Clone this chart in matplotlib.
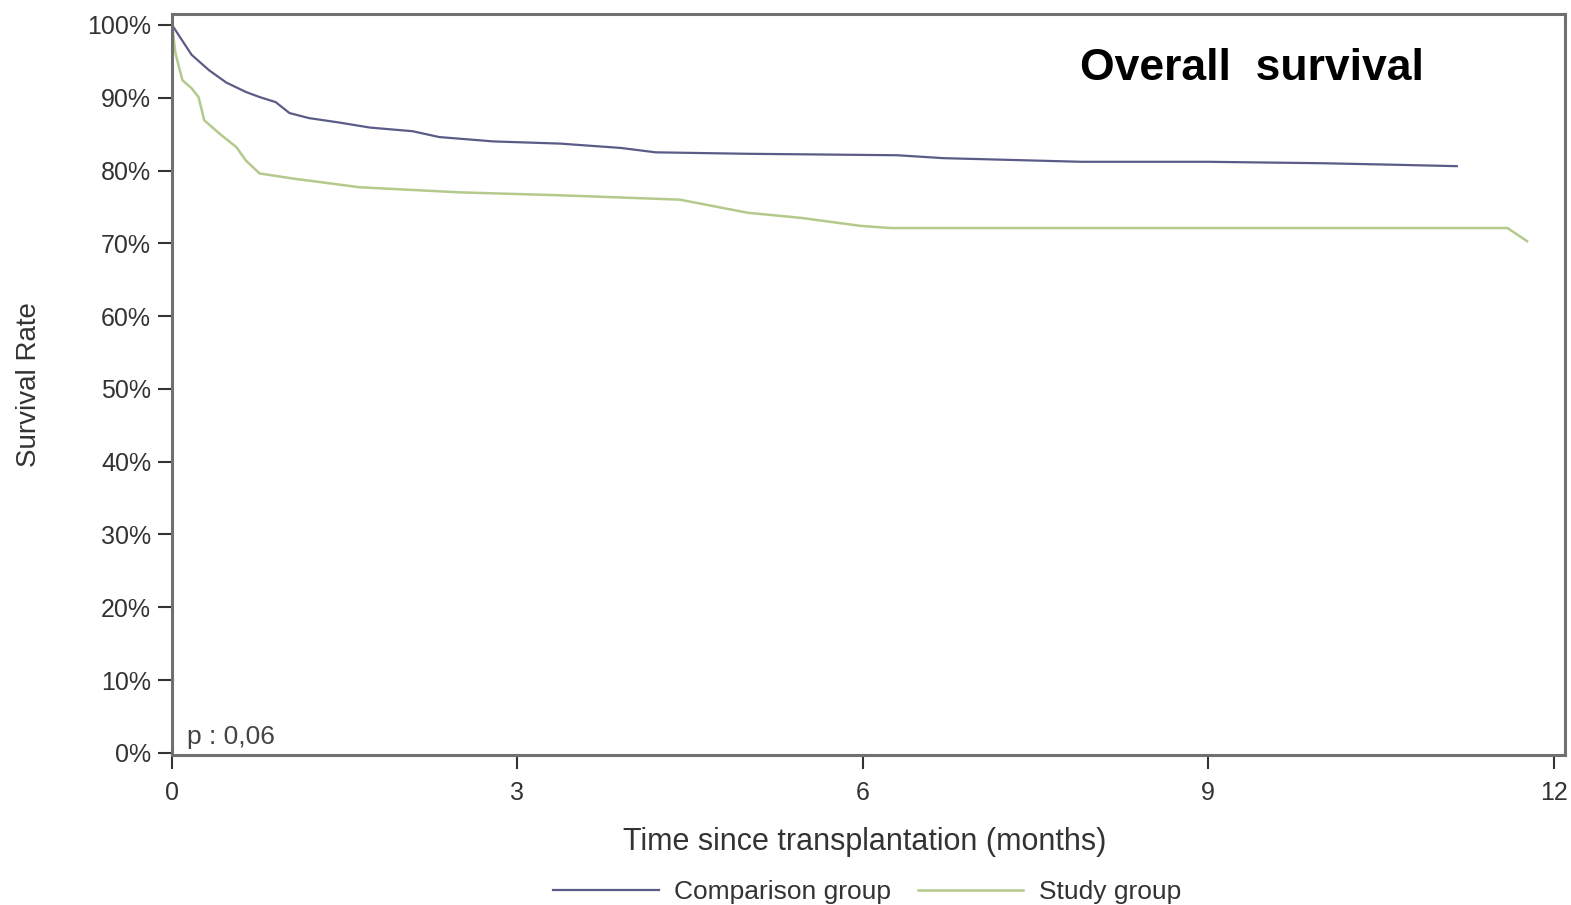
import matplotlib.pyplot as plt
from matplotlib.ticker import PercentFormatter

# Kaplan-Meier style curves (months, survival %)
comp_t = [0, 0.17, 0.32, 0.47, 0.64, 0.76, 0.9, 1.02, 1.19, 1.45, 1.72, 2.09, 2.32,
          2.79, 3.37, 3.9, 4.2, 5.0, 6.3, 6.7, 7.9, 9.0, 10.0, 10.6, 11.16]
comp_s = [100, 95.9, 93.8, 92.1, 90.8, 90.1, 89.4, 87.9, 87.2, 86.6, 85.9, 85.4, 84.6,
          84.0, 83.7, 83.1, 82.5, 82.3, 82.1, 81.7, 81.2, 81.2, 81.0, 80.8, 80.6]

study_t = [0, 0.03, 0.09, 0.17, 0.23, 0.28, 0.41, 0.56, 0.64, 0.76, 1.05, 1.63, 2.5,
           3.37, 4.41, 5.0, 5.46, 5.98, 6.24, 11.6, 11.77]
study_s = [100, 96.1, 92.4, 91.3, 90.1, 86.9, 85.1, 83.2, 81.4, 79.6, 78.9, 77.7, 77.0,
           76.6, 76.0, 74.2, 73.5, 72.4, 72.1, 72.1, 70.3]

xticks = [0, 3, 6, 9, 12]
yticks = list(range(0, 101, 10))

plt.rcParams['font.family'] = ['Liberation Sans', 'DejaVu Sans']

fig = plt.figure(figsize=(15.71, 9.05), dpi=100)
ax = fig.add_axes([0.1095, 0.1657, 0.8867, 0.8188])

ax.plot(comp_t, comp_s, color='#5b5b88', lw=1.6, label='Comparison group')
ax.plot(study_t, study_s, color='#b4ca8c', lw=1.8, label='Study group')

ax.set_xlim(0, 12.1)
ax.set_ylim(-0.3, 101.5)
ax.set_xticks(xticks)
ax.set_yticks(yticks)
ax.yaxis.set_major_formatter(PercentFormatter(decimals=0))
ax.tick_params(labelsize=18, colors='#333333', length=10, width=1.5, direction='out')
ax.tick_params(axis='y', pad=5)
ax.tick_params(axis='x', pad=9)
for sp in ax.spines.values():
    sp.set_color('#707070')
    sp.set_linewidth(2.2)

ax.set_ylabel('Survival Rate', fontsize=20, color='#333333', va='center')
ax.yaxis.set_label_coords(-0.103, 0.5)
ax.set_xlabel('Time since transplantation (months)', fontsize=22, color='#333333', va='center')
ax.xaxis.set_label_coords(0.497, -0.117)

ax.text(0.011, 0.024, 'p : 0,06', transform=ax.transAxes, fontsize=19, color='#444444',
        va='center')
ax.text(0.775, 0.927, 'Overall  survival', transform=ax.transAxes, fontsize=32,
        fontweight='bold', va='center', ha='center', color='black')

fig.legend(loc='center', bbox_to_anchor=(0.552, 0.0144), ncol=2, frameon=False,
           fontsize=19, handlelength=4.0, columnspacing=1.0, handletextpad=0.6,
           labelcolor='#333333')

fig.savefig('out.png', dpi=100)
